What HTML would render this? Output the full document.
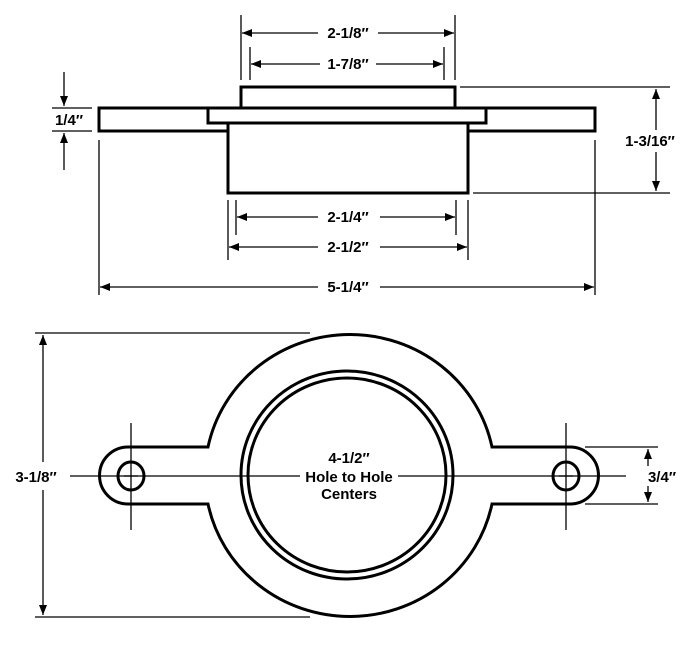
<!DOCTYPE html>
<html><head><meta charset="utf-8"><style>
html,body{margin:0;padding:0;background:#fff}
svg{display:block}
text{font-family:"Liberation Sans Narrow","Liberation Sans",sans-serif;font-weight:bold;font-size:15px;fill:#000}
</style></head><body>
<svg width="700" height="647" viewBox="0 0 700 647" xmlns="http://www.w3.org/2000/svg">
<defs>
<marker id="a" viewBox="0 0 10 8" refX="10" refY="4" markerWidth="10" markerHeight="8" markerUnits="userSpaceOnUse" orient="auto-start-reverse"><path d="M0,0L10,4L0,8z" fill="#000"/></marker>
</defs>
<g fill="none" stroke="#000" stroke-width="3">
<rect x="241" y="87" width="214" height="21"/>
<rect x="99" y="108" width="496" height="23"/>
<rect x="208" y="108" width="278" height="15" fill="#fff"/>
<rect x="228" y="123" width="240" height="70" fill="#fff"/>
</g>
<g stroke="#000" stroke-width="1.3" fill="none">
<line x1="241" y1="15" x2="241" y2="80"/><line x1="455" y1="15" x2="455" y2="80"/>
<line x1="250" y1="47" x2="250" y2="80"/><line x1="444" y1="47" x2="444" y2="80"/>
<line x1="242" y1="33" x2="454" y2="33" marker-start="url(#a)" marker-end="url(#a)"/>
<line x1="251" y1="64" x2="443" y2="64" marker-start="url(#a)" marker-end="url(#a)"/>
<line x1="460" y1="87" x2="670" y2="87"/><line x1="473" y1="193" x2="670" y2="193"/>
<line x1="656" y1="89" x2="656" y2="191" marker-start="url(#a)" marker-end="url(#a)"/>
<line x1="52" y1="108" x2="92" y2="108"/><line x1="52" y1="131" x2="92" y2="131"/>
<line x1="64" y1="72" x2="64" y2="106" marker-end="url(#a)"/>
<line x1="64" y1="170" x2="64" y2="133" marker-end="url(#a)"/>
<line x1="236" y1="200" x2="236" y2="235"/><line x1="456" y1="200" x2="456" y2="235"/>
<line x1="228" y1="200" x2="228" y2="260"/><line x1="468" y1="200" x2="468" y2="260"/>
<line x1="99" y1="140" x2="99" y2="295"/><line x1="595" y1="140" x2="595" y2="295"/>
<line x1="237" y1="217" x2="455" y2="217" marker-start="url(#a)" marker-end="url(#a)"/>
<line x1="229" y1="247" x2="467" y2="247" marker-start="url(#a)" marker-end="url(#a)"/>
<line x1="100" y1="287" x2="594" y2="287" marker-start="url(#a)" marker-end="url(#a)"/>
</g>
<g fill="#fff">
<rect x="318" y="24" width="60" height="18"/>
<rect x="320" y="55" width="56" height="18"/>
<rect x="318" y="208" width="62" height="18"/>
<rect x="318" y="238" width="62" height="18"/>
<rect x="318" y="278" width="62" height="18"/>
<rect x="606" y="130" width="90" height="22"/>
</g>
<g text-anchor="middle">
<text x="348" y="38">2-1/8″</text>
<text x="348" y="69">1-7/8″</text>
<text x="348" y="222">2-1/4″</text>
<text x="348" y="252">2-1/2″</text>
<text x="348" y="292">5-1/4″</text>
<text x="650" y="146">1-3/16″</text>
<text x="69" y="125">1/4″</text>
</g>
<!-- bottom view -->
<g fill="none" stroke="#000" stroke-width="3">
<path d="M208,447 A145,141 0 0 1 492,447 L570,447 A28.5,28.5 0 0 1 570,504 L492,504 A145,141 0 0 1 208,504 L128,504 A28.5,28.5 0 0 1 128,447 Z"/>
<ellipse cx="347" cy="475" rx="106" ry="104"/>
<ellipse cx="347" cy="475" rx="99" ry="97"/>
<ellipse cx="131" cy="476" rx="13" ry="14"/>
<ellipse cx="566" cy="476" rx="13" ry="14"/>
</g>
<g stroke="#000" stroke-width="1.3" fill="none">
<line x1="70" y1="476" x2="300" y2="476"/><line x1="398" y1="476" x2="626" y2="476"/>
<line x1="131" y1="423" x2="131" y2="530"/><line x1="566" y1="423" x2="566" y2="530"/>
<line x1="124" y1="476" x2="138" y2="476"/><line x1="559" y1="476" x2="573" y2="476"/>
<line x1="35" y1="333" x2="310" y2="333"/><line x1="35" y1="617" x2="310" y2="617"/>
<line x1="43" y1="462" x2="43" y2="335" marker-end="url(#a)"/>
<line x1="43" y1="490" x2="43" y2="615" marker-end="url(#a)"/>
<line x1="585" y1="447" x2="658" y2="447"/><line x1="585" y1="504" x2="658" y2="504"/>
<line x1="648" y1="466" x2="648" y2="449" marker-end="url(#a)"/>
<line x1="648" y1="486" x2="648" y2="502" marker-end="url(#a)"/>
</g>
<rect x="640" y="466" width="46" height="20" fill="#fff"/>
<g text-anchor="middle">
<text x="36" y="482">3-1/8″</text>
<text x="662" y="482">3/4″</text>
<text x="349" y="463">4-1/2″</text>
<text x="349" y="482">Hole to Hole</text>
<text x="349" y="499">Centers</text>
</g>
</svg>
</body></html>
